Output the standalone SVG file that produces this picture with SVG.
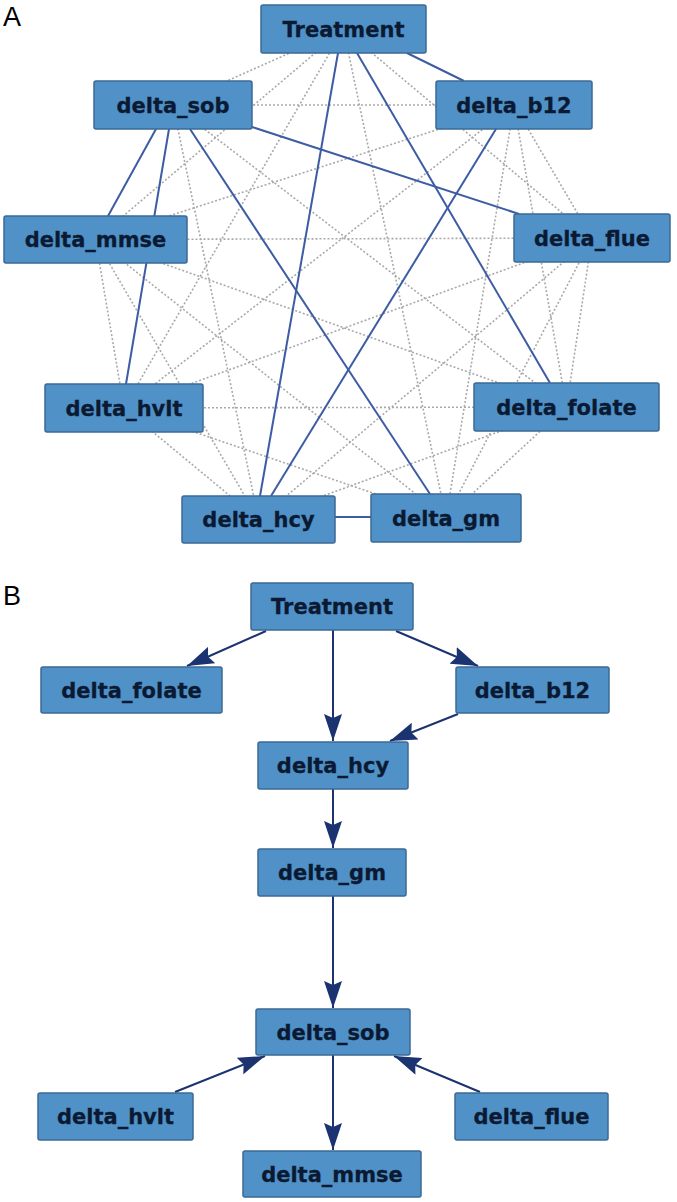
<svg xmlns="http://www.w3.org/2000/svg" width="677" height="1202" viewBox="0 0 677 1202">
<defs>
<style>
.box{fill:#5091c8;stroke:#3b6a94;stroke-width:1.5}
.lbl{font-family:"DejaVu Sans","Liberation Sans",sans-serif;font-weight:bold;font-size:21px;fill:#0b1a33;stroke:#0b1a33;stroke-width:0.3;text-anchor:middle}
.panel{font-family:"Liberation Sans",Arial,sans-serif;font-size:27px;fill:#000}
.dot{stroke:#a9a9a9;stroke-width:1.6;stroke-dasharray:2 2;fill:none}
.sol{stroke:#3d5ca3;stroke-width:2;fill:none}
.arr{stroke:#1b3370;stroke-width:2;fill:none;marker-end:url(#ah)}
</style>
<marker id="ah" markerUnits="userSpaceOnUse" markerWidth="28" markerHeight="18" refX="27" refY="9" orient="auto">
<path d="M0,0 L27,9 L0,18 L4,9 z" fill="#1b3370"/>
</marker>
</defs>
<rect width="677" height="1202" fill="#fff"/>
<text class="panel" x="3" y="26">A</text>
<text class="panel" x="3" y="605">B</text>

<g id="connectors-A">
<g id="dotted-A">
<line class="dot" x1="343.5" y1="29" x2="173" y2="105"/>
<line class="dot" x1="343.5" y1="29" x2="95.5" y2="239.5"/>
<line class="dot" x1="343.5" y1="29" x2="592" y2="238"/>
<line class="dot" x1="343.5" y1="29" x2="124" y2="408"/>
<line class="dot" x1="343.5" y1="29" x2="446" y2="518"/>
<line class="dot" x1="173" y1="105" x2="514" y2="105"/>
<line class="dot" x1="173" y1="105" x2="566.5" y2="407"/>
<line class="dot" x1="173" y1="105" x2="258.5" y2="519.5"/>
<line class="dot" x1="514" y1="105" x2="95.5" y2="239.5"/>
<line class="dot" x1="514" y1="105" x2="592" y2="238"/>
<line class="dot" x1="514" y1="105" x2="124" y2="408"/>
<line class="dot" x1="514" y1="105" x2="566.5" y2="407"/>
<line class="dot" x1="514" y1="105" x2="446" y2="518"/>
<line class="dot" x1="95.5" y1="239.5" x2="592" y2="238"/>
<line class="dot" x1="95.5" y1="239.5" x2="124" y2="408"/>
<line class="dot" x1="95.5" y1="239.5" x2="566.5" y2="407"/>
<line class="dot" x1="95.5" y1="239.5" x2="258.5" y2="519.5"/>
<line class="dot" x1="95.5" y1="239.5" x2="446" y2="518"/>
<line class="dot" x1="592" y1="238" x2="124" y2="408"/>
<line class="dot" x1="592" y1="238" x2="566.5" y2="407"/>
<line class="dot" x1="592" y1="238" x2="258.5" y2="519.5"/>
<line class="dot" x1="592" y1="238" x2="446" y2="518"/>
<line class="dot" x1="124" y1="408" x2="566.5" y2="407"/>
<line class="dot" x1="124" y1="408" x2="258.5" y2="519.5"/>
<line class="dot" x1="124" y1="408" x2="446" y2="518"/>
<line class="dot" x1="566.5" y1="407" x2="258.5" y2="519.5"/>
<line class="dot" x1="566.5" y1="407" x2="446" y2="518"/>
</g>
<g id="solid-A">
<line class="sol" x1="407" y1="53" x2="464" y2="81"/>
<line class="sol" x1="338" y1="53" x2="260" y2="496"/>
<line class="sol" x1="357" y1="53" x2="550" y2="383"/>
<line class="sol" x1="252" y1="127" x2="519" y2="214"/>
<line class="sol" x1="156" y1="129" x2="108" y2="216"/>
<line class="sol" x1="169" y1="129" x2="126" y2="384"/>
<line class="sol" x1="190" y1="129" x2="430" y2="494"/>
<line class="sol" x1="496" y1="129" x2="271" y2="496"/>
<line class="sol" x1="335" y1="517" x2="371" y2="517"/>
</g>
</g>

<g id="A-Treatment"><rect class="box" x="261" y="5" width="165" height="48" rx="2"/><text class="lbl" x="343.5" y="36.5">Treatment</text></g>
<g id="A-delta_sob"><rect class="box" x="94" y="81" width="158" height="48" rx="2"/><text class="lbl" x="173" y="112.5">delta_sob</text></g>
<g id="A-delta_b12"><rect class="box" x="436" y="81" width="156" height="48" rx="2"/><text class="lbl" x="514" y="112.5">delta_b12</text></g>
<g id="A-delta_mmse"><rect class="box" x="4" y="216" width="183" height="47" rx="2"/><text class="lbl" x="95.5" y="247">delta_mmse</text></g>
<g id="A-delta_flue"><rect class="box" x="514" y="214" width="156" height="48" rx="2"/><text class="lbl" x="592" y="245.5">delta_flue</text></g>
<g id="A-delta_hvlt"><rect class="box" x="45" y="384" width="158" height="48" rx="2"/><text class="lbl" x="124" y="415.5">delta_hvlt</text></g>
<g id="A-delta_folate"><rect class="box" x="474" y="383" width="185" height="48" rx="2"/><text class="lbl" x="566.5" y="414.5">delta_folate</text></g>
<g id="A-delta_hcy"><rect class="box" x="182" y="496" width="153" height="47" rx="2"/><text class="lbl" x="258.5" y="527">delta_hcy</text></g>
<g id="A-delta_gm"><rect class="box" x="371" y="494" width="150" height="48" rx="2"/><text class="lbl" x="446" y="525.5">delta_gm</text></g>

<g id="connectors-B">
<line class="arr" x1="266" y1="631" x2="187" y2="666"/>
<line class="arr" x1="396" y1="631" x2="478" y2="666"/>
<line class="arr" x1="333" y1="630" x2="333" y2="741"/>
<line class="arr" x1="458" y1="714" x2="390" y2="741"/>
<line class="arr" x1="333" y1="789" x2="333" y2="848"/>
<line class="arr" x1="333" y1="896" x2="333" y2="1008"/>
<line class="arr" x1="175" y1="1092" x2="265" y2="1056"/>
<line class="arr" x1="480" y1="1092" x2="394" y2="1056"/>
<line class="arr" x1="333" y1="1055" x2="333" y2="1150"/>
</g>

<g id="B-Treatment"><rect class="box" x="251" y="583" width="162" height="47" rx="2"/><text class="lbl" x="332" y="614">Treatment</text></g>
<g id="B-delta_folate"><rect class="box" x="41" y="667" width="181" height="46" rx="2"/><text class="lbl" x="131.5" y="697.5">delta_folate</text></g>
<g id="B-delta_b12"><rect class="box" x="456" y="667" width="153" height="46" rx="2"/><text class="lbl" x="532.5" y="697.5">delta_b12</text></g>
<g id="B-delta_hcy"><rect class="box" x="258" y="742" width="150" height="47" rx="2"/><text class="lbl" x="333" y="773">delta_hcy</text></g>
<g id="B-delta_gm"><rect class="box" x="258" y="849" width="148" height="47" rx="2"/><text class="lbl" x="332" y="880">delta_gm</text></g>
<g id="B-delta_sob"><rect class="box" x="256" y="1009" width="154" height="46" rx="2"/><text class="lbl" x="333" y="1039.5">delta_sob</text></g>
<g id="B-delta_hvlt"><rect class="box" x="38" y="1093" width="155" height="47" rx="2"/><text class="lbl" x="115.5" y="1124">delta_hvlt</text></g>
<g id="B-delta_flue"><rect class="box" x="455" y="1093" width="153" height="47" rx="2"/><text class="lbl" x="531.5" y="1124">delta_flue</text></g>
<g id="B-delta_mmse"><rect class="box" x="243" y="1151" width="178" height="46" rx="2"/><text class="lbl" x="332" y="1181.5">delta_mmse</text></g>
</svg>
